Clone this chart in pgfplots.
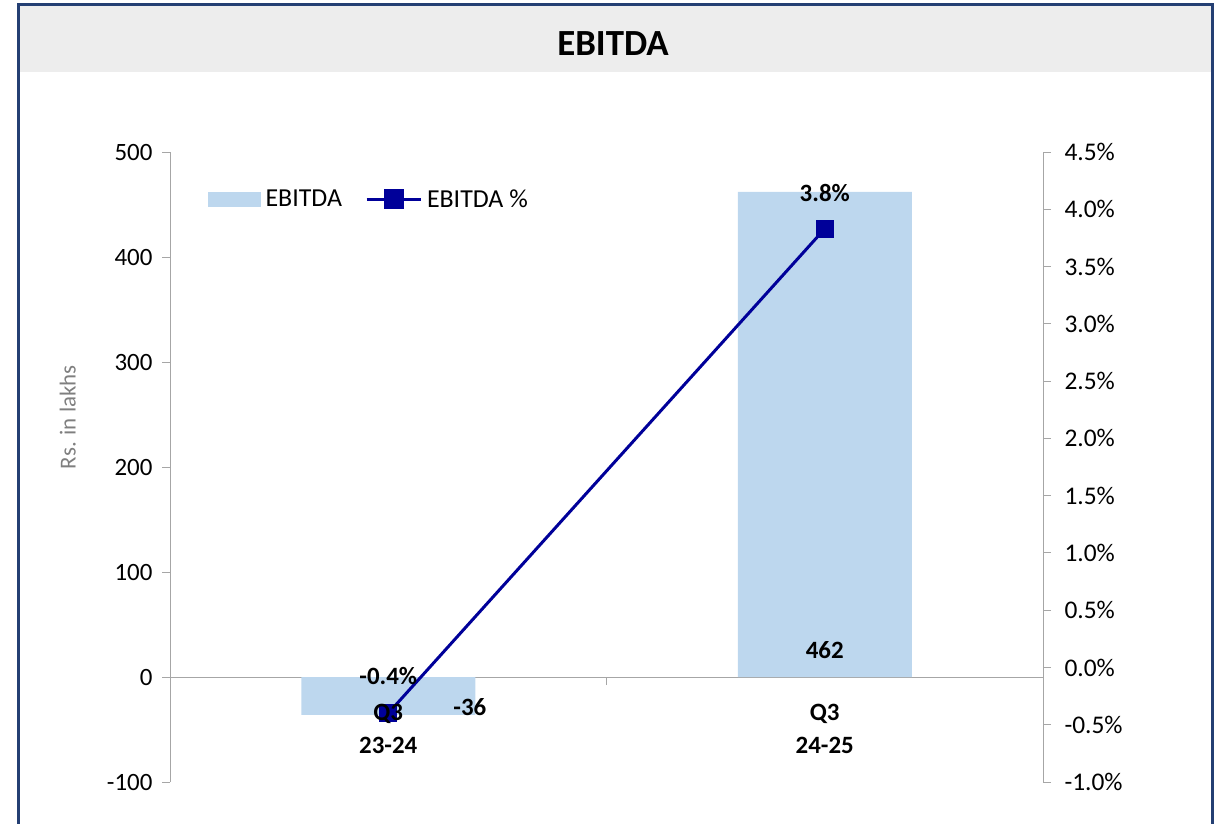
\documentclass[border=0pt]{standalone}
\usepackage{fontspec}
\setmainfont{Carlito}
\usepackage{pgfplots}
\pgfplotsset{compat=1.18}
\definecolor{barblue}{HTML}{BDD7EE}
\definecolor{linenavy}{HTML}{000099}
\definecolor{framenavy}{HTML}{243F73}
\definecolor{band}{HTML}{EDEDED}
\definecolor{axgray}{HTML}{A6A6A6}
\definecolor{labgray}{HTML}{7F7F7F}

\begin{document}
\begin{tikzpicture}
\useasboundingbox (0bp,0bp) rectangle (1225bp,-824bp);
% title band and frame
\fill[band] (18bp,-5bp) rectangle (1212bp,-72bp);
\draw[framenavy, line width=3bp] (18bp,-830bp) -- (18bp,-4.5bp) -- (1212bp,-4.5bp) -- (1212bp,-830bp);
\node[font=\fontsize{37}{40}\selectfont\bfseries] at (613bp,-44bp) {EBITDA};

% left axis: bars
\begin{axis}[
  at={(170bp,-782bp)}, anchor=south west, scale only axis,
  width=873bp, height=630bp,
  xmin=0.5, xmax=2.5, ymin=-100, ymax=500,
  axis y line*=left, axis x line*=middle,
  axis line style={axgray, line width=1bp},
  every tick/.style={axgray, line width=1bp},
  tick align=outside, major tick length=8bp,
  ytick={-100,0,100,200,300,400,500},
  yticklabels={-100,0,100,200,300,400,500},
  xtick={1.5}, xticklabels={},
  tick label style={font=\fontsize{25}{30}\selectfont},
  yticklabel style={xshift=-6bp},
  ylabel={Rs. in lakhs},
  every axis y label/.style={at={(axis description cs:-0.117,0.579)}, rotate=90, anchor=center,
    font=\fontsize{23}{28}\selectfont, text=labgray},
  clip=false,
]
\addplot[ybar, bar width=174bp, fill=barblue, draw=none] coordinates {(1,-36) (2,462)};
\node[font=\fontsize{25}{30}\selectfont\bfseries] at (axis cs:2,25.7) {462};
\node[font=\fontsize{25}{30}\selectfont\bfseries] at (axis cs:1.187,-28.6) {-36};
\end{axis}

% right axis: EBITDA %
\begin{axis}[
  at={(170bp,-782bp)}, anchor=south west, scale only axis,
  width=873bp, height=630bp,
  xmin=0.5, xmax=2.5, ymin=-1, ymax=4.5,
  axis y line*=right, axis x line=none,
  axis line style={axgray, line width=1bp},
  every tick/.style={axgray, line width=1bp},
  tick align=outside, major tick length=8bp,
  ytick={-1,-0.5,0,0.5,1,1.5,2,2.5,3,3.5,4,4.5},
  yticklabels={-1.0\%,-0.5\%,0.0\%,0.5\%,1.0\%,1.5\%,2.0\%,2.5\%,3.0\%,3.5\%,4.0\%,4.5\%},
  tick label style={font=\fontsize{25.5}{30}\selectfont},
  yticklabel style={xshift=10bp},
  clip=false,
  legend style={draw=none, fill=none, at={(axis description cs:0.0435,0.925)}, anchor=west,
    legend columns=2, inner xsep=0pt, inner ysep=0pt,
    font=\fontsize{26}{30}\selectfont,
    nodes={inner xsep=5bp},
    /tikz/every even column/.append style={column sep=18bp}},
]
\addlegendimage{legend image code/.code={\fill[barblue] (0bp,-7bp) rectangle (52bp,7bp);}}
\addlegendentry{EBITDA}
\addplot[linenavy, line width=3bp, mark=square*, mark size=8.5bp,
  mark options={fill=linenavy, draw=linenavy, line width=0pt},
  legend image code/.code={\draw[linenavy, line width=3bp] (0bp,0bp) -- (54bp,0bp);
    \fill[linenavy] (18.5bp,-8.5bp) rectangle (35.5bp,8.5bp);}]
  coordinates {(1,-0.4) (2,3.83)};
\addlegendentry{EBITDA \%}
\node[font=\fontsize{25}{30}\selectfont\bfseries] at (axis cs:2,4.14) {3.8\%};
\node[font=\fontsize{25}{30}\selectfont\bfseries] at (axis cs:1,-0.074) {-0.4\%};
\end{axis}

% category labels, drawn last so they sit above the line
\begin{axis}[
  at={(170bp,-782bp)}, anchor=south west, scale only axis,
  width=873bp, height=630bp,
  xmin=0.5, xmax=2.5, ymin=-100, ymax=500,
  axis y line=none, axis x line*=middle,
  axis line style={draw=none},
  ytick=\empty,
  xtick={1,2}, major tick length=0pt,
  xticklabels={{Q3\\23-24},{Q3\\24-25}},
  xticklabel style={align=center, font=\fontsize{25}{33}\selectfont\bfseries, yshift=-24bp},
]
\end{axis}
\end{tikzpicture}
\end{document}
